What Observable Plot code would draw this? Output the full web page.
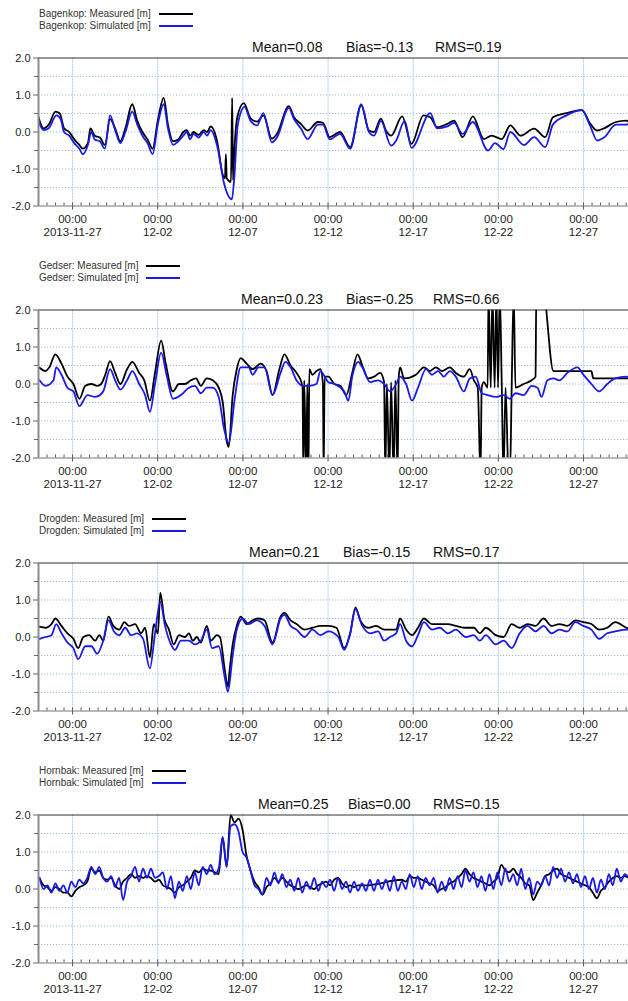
<!DOCTYPE html>
<html>
<head>
<meta charset="utf-8">
<script src="https://cdn.jsdelivr.net/npm/d3@7"></script>
<script src="https://cdn.jsdelivr.net/npm/@observablehq/plot@0.6"></script>
<style>
  html, body { margin: 0; padding: 0; background: #fff; }
  body { width: 628px; height: 1001px; overflow: hidden; font-family: Arial, "Liberation Sans", sans-serif; }
  #root { position: relative; width: 628px; height: 1001px; }
  .panel { position: absolute; left: 0; width: 628px; height: 252px; }
  .panel svg { position: absolute; left: 0; top: 0; overflow: visible; }
  .legend { position: absolute; left: 39px; top: 8px; display: grid; grid-template-columns: auto 34px; column-gap: 8px; row-gap: 0; font-size: 10px; color: #333; line-height: 12px; }
  .sw { align-self: center; height: 2px; }
  .stat { position: absolute; top: 39px; font-size: 14px; line-height: 16px; color: #111; white-space: nowrap; }
</style>
</head>
<body>
<div id="root"></div>
<script>
// ---------- time axis ----------
const START = "2013-11-25T00:00Z";
const END = "2013-12-29T15:20Z";
const xTickDates = ["2013-11-27", "2013-12-02", "2013-12-07", "2013-12-12", "2013-12-17", "2013-12-22", "2013-12-27"];
const xTickLabels = ["2013-11-27", "12-02", "12-07", "12-12", "12-17", "12-22", "12-27"];
const yTicks = [-2, -1, 0, 1, 2];
const yHalfTicks = [-1.5, -0.5, 0.5, 1.5];
const yGrid = [-1.5, -1, -0.5, 0, 0.5, 1, 1.5];

// ---------- series: [day since 2013-11-25 00:00, water level m] ----------
const bagenkopMeasured = [[0,0.4],[0.3,0.1],[0.6,0.2],[1.0,0.55],[1.25,0.5],[1.5,0.1],[1.8,0.0],[2.1,-0.2],[2.4,-0.35],[2.6,-0.45],[2.9,-0.3],[3.05,0.1],[3.3,-0.1],[3.6,-0.15],[3.9,-0.35],[4.2,0.35],[4.5,0.1],[4.8,-0.25],[5.1,0.1],[5.5,0.75],[5.8,0.3],[6.1,0.0],[6.4,-0.2],[6.7,-0.45],[7.0,0.3],[7.35,0.92],[7.6,0.2],[7.9,-0.25],[8.2,-0.2],[8.5,0.0],[8.7,0.05],[8.9,-0.1],[9.1,0.0],[9.4,-0.08],[9.7,0.05],[9.9,0.0],[10.1,0.15],[10.5,-0.28],[10.8,-1.13],[10.95,-1.25],[11.0,-0.6],[11.05,-1.25],[11.3,-1.35],[11.37,0.92],[11.42,-1.3],[11.5,-0.5],[11.67,0.4],[12.05,0.78],[12.45,0.37],[12.84,0.28],[13.2,0.45],[13.7,-0.18],[14.0,-0.05],[14.7,0.7],[15.0,0.4],[15.4,0.22],[15.8,0.04],[16.4,0.27],[16.7,0.25],[17.1,-0.14],[17.7,0.0],[18.3,-0.41],[18.95,0.72],[19.4,0.04],[19.7,0.0],[20.1,0.36],[20.4,0.04],[20.7,-0.1],[21.35,0.42],[21.9,-0.32],[22.6,0.45],[23.0,0.4],[23.4,0.13],[24.0,0.22],[24.4,0.31],[24.9,-0.14],[25.5,0.42],[26.15,-0.19],[26.6,-0.1],[27.2,-0.19],[27.7,0.18],[28.3,-0.1],[29.1,0.09],[29.75,-0.14],[30.2,0.4],[31.0,0.51],[31.9,0.59],[32.4,0.22],[32.8,0.04],[33.2,0.1],[33.9,0.27],[34.5,0.31],[34.8,0.2]];
const bagenkopSimulated = [[0,0.3],[0.3,0.05],[0.6,0.1],[1.05,0.45],[1.3,0.35],[1.5,0.0],[1.8,-0.1],[2.1,-0.3],[2.4,-0.45],[2.6,-0.6],[2.9,-0.35],[3.1,0.0],[3.3,-0.2],[3.6,-0.25],[3.9,-0.45],[4.2,0.45],[4.5,0.05],[4.8,-0.3],[5.1,0.0],[5.5,0.55],[5.8,0.2],[6.1,-0.1],[6.4,-0.3],[6.7,-0.6],[7.0,0.2],[7.35,0.75],[7.6,0.1],[7.9,-0.35],[8.2,-0.25],[8.5,-0.1],[8.7,0.0],[8.9,-0.2],[9.1,-0.05],[9.4,-0.15],[9.7,0.0],[9.9,-0.1],[10.1,0.05],[10.5,-0.4],[10.9,-1.4],[11.35,-1.82],[11.5,-1.2],[11.7,0.2],[12.1,0.68],[12.45,0.3],[12.84,0.18],[13.2,0.51],[13.7,-0.28],[14.0,-0.15],[14.7,0.65],[15.0,0.35],[15.4,0.1],[15.8,-0.19],[16.4,0.2],[16.7,0.2],[17.1,-0.2],[17.7,-0.05],[18.3,-0.45],[18.95,0.75],[19.4,0.0],[19.7,-0.1],[20.1,0.3],[20.7,-0.37],[21.0,-0.23],[21.5,0.3],[21.9,-0.43],[23.0,0.51],[23.4,0.1],[24.0,0.15],[24.4,0.25],[24.9,-0.05],[25.5,0.27],[26.4,-0.5],[26.8,-0.3],[27.3,-0.46],[27.7,0.0],[28.5,-0.35],[29.1,-0.14],[29.75,-0.41],[30.2,0.2],[31.0,0.45],[31.9,0.59],[32.4,0.15],[32.8,-0.23],[33.2,-0.15],[33.9,0.2],[34.5,0.2],[34.8,0.25]];

const gedserMeasured = [[0.06,0.44],[0.41,0.35],[0.64,0.45],[0.99,0.8],[1.35,0.55],[1.70,0.2],[2.05,0.0],[2.40,-0.4],[2.75,-0.05],[3.10,0.0],[3.45,-0.05],[3.68,0.0],[3.92,0.25],[4.20,0.62],[4.50,0.3],[4.81,0.0],[5.20,0.4],[5.51,0.6],[5.91,0.3],[6.21,0.1],[6.54,-0.45],[6.84,0.3],[7.20,1.17],[7.47,0.55],[7.89,-0.2],[8.25,0.0],[8.60,0.0],[8.95,0.1],[9.25,0.15],[9.53,-0.05],[9.88,0.15],[10.23,0.1],[10.58,-0.1],[10.82,-0.5],[11.05,-1.55],[11.17,-1.7],[11.40,-0.3],[11.64,0.4],[11.87,0.7],[12.22,0.55],[12.57,0.4],[13.04,0.55],[13.39,0.35],[13.74,-0.3],[14.14,0.4],[14.44,0.8],[14.80,0.5],[15.15,0.3],[15.50,-0.05],[15.55,-2.5],[15.60,0.1],[15.72,-2.5],[15.78,0.0],[15.85,-2.5],[15.9,0.4],[16.08,0.25],[16.32,0.35],[16.55,0.4],[16.70,0.0],[16.74,-2.5],[16.80,0.2],[17.02,0.2],[17.37,0.0],[17.72,-0.05],[18.07,-0.3],[18.42,0.3],[18.73,0.8],[19.01,0.5],[19.36,0.15],[19.71,0.2],[20.06,0.3],[20.29,0.05],[20.36,-2.5],[20.45,0.0],[20.60,-2.5],[20.70,0.05],[20.85,-2.5],[20.95,0.1],[21.08,-2.5],[21.15,0.2],[21.23,0.45],[21.46,0.15],[22.16,0.25],[22.63,0.45],[22.98,0.35],[23.33,0.45],[23.68,0.35],[24.15,0.45],[24.50,0.3],[24.97,0.2],[25.32,0.4],[25.56,0.1],[25.79,-0.1],[25.95,-2.5],[26.02,-0.1],[26.14,0.05],[26.37,-0.1],[26.42,2.5],[26.55,-0.1],[26.65,2.5],[26.78,-0.1],[26.88,2.5],[26.98,-0.1],[27.08,2.5],[27.20,-0.1],[27.30,-2.5],[27.42,-0.1],[27.60,-2.5],[27.68,-2.5],[27.78,-0.1],[27.90,2.5],[28.0,-0.1],[28.48,0.0],[28.95,0.1],[29.18,0.2],[29.23,2.6],[29.6,2.6],[30.23,0.35],[32.46,0.35],[32.57,0.15],[34.8,0.15]];
const gedserSimulated = [[0.06,0.1],[0.41,-0.05],[0.88,0.1],[1.04,0.45],[1.35,0.25],[1.70,-0.1],[2.05,-0.2],[2.40,-0.6],[2.87,-0.3],[3.33,-0.35],[3.80,-0.2],[4.20,0.4],[4.50,0.1],[4.81,-0.15],[5.20,0.1],[5.51,0.35],[5.91,0.0],[6.26,-0.3],[6.54,-0.75],[6.84,0.0],[7.20,0.85],[7.54,0.2],[7.89,-0.4],[8.36,-0.3],[8.83,-0.1],[9.18,-0.05],[9.53,-0.25],[9.88,-0.1],[10.23,-0.1],[10.58,-0.35],[10.89,-1.2],[11.17,-1.6],[11.52,-0.4],[11.87,0.45],[12.34,0.45],[12.57,0.25],[12.92,0.45],[13.27,0.45],[13.74,-0.3],[14.21,0.3],[14.49,0.6],[14.80,0.45],[15.15,0.1],[15.50,-0.05],[15.85,-0.05],[16.32,0.0],[16.55,0.35],[17.02,0.05],[17.37,0.0],[17.95,-0.2],[18.19,-0.45],[18.42,0.2],[18.77,0.6],[19.01,0.45],[19.47,0.05],[19.94,0.1],[20.29,0.0],[20.64,-0.2],[21.00,0.0],[21.23,0.2],[21.58,0.0],[21.93,-0.45],[22.28,-0.1],[22.75,0.4],[23.10,0.25],[23.45,0.35],[23.80,0.2],[24.15,0.35],[24.50,0.2],[24.97,-0.2],[25.32,0.15],[25.67,0.2],[26.02,-0.25],[26.37,-0.3],[26.84,-0.35],[27.31,-0.3],[27.66,-0.4],[28.01,-0.25],[28.48,-0.3],[28.95,-0.05],[29.30,-0.1],[29.53,-0.35],[29.88,0.1],[30.23,0.15],[30.58,0.1],[31.05,0.3],[31.64,0.45],[31.99,0.25],[32.46,0.0],[32.92,-0.2],[33.39,0.0],[33.86,0.15],[34.51,0.2],[34.8,0.15]];

const drogdenMeasured = [[0.06,0.28],[0.41,0.25],[0.76,0.35],[0.99,0.5],[1.35,0.3],[1.70,0.1],[2.05,-0.05],[2.33,-0.3],[2.63,0.0],[2.98,0.05],[3.33,-0.1],[3.57,0.05],[3.80,-0.1],[4.11,0.55],[4.39,0.3],[4.74,0.2],[5.04,0.4],[5.32,0.3],[5.67,0.35],[6.02,0.1],[6.26,0.25],[6.54,-0.55],[6.77,0.35],[7.01,0.1],[7.15,1.2],[7.38,0.5],[7.66,0.2],[7.94,-0.2],[8.25,0.05],[8.60,0.0],[8.83,0.1],[9.06,-0.1],[9.30,0.0],[9.53,-0.15],[9.88,0.3],[10.12,-0.1],[10.47,0.05],[10.65,0.0],[10.94,-0.9],[11.12,-1.35],[11.22,-0.9],[11.40,-0.2],[11.64,0.3],[11.87,0.55],[12.22,0.35],[12.57,0.45],[12.92,0.5],[13.27,0.45],[13.74,-0.15],[14.21,0.55],[14.44,0.65],[14.80,0.45],[15.15,0.35],[15.62,0.2],[16.08,0.25],[16.55,0.3],[17.02,0.3],[17.49,0.25],[17.95,-0.3],[18.30,0.1],[18.61,0.8],[18.89,0.45],[19.36,0.25],[19.82,0.3],[20.29,0.2],[20.64,0.2],[21.00,0.2],[21.23,0.5],[21.58,0.2],[21.93,0.05],[22.28,0.25],[22.63,0.5],[23.10,0.35],[23.57,0.35],[24.04,0.35],[24.50,0.3],[25.09,0.25],[25.56,0.25],[25.91,0.1],[26.26,0.25],[26.84,0.05],[27.31,0.0],[27.78,0.35],[28.25,0.25],[28.71,0.35],[29.18,0.3],[29.65,0.5],[30.12,0.3],[30.58,0.35],[31.05,0.3],[31.52,0.45],[31.99,0.4],[32.46,0.35],[32.92,0.2],[33.39,0.25],[33.86,0.4],[34.51,0.25],[34.8,0.2]];
const drogdenSimulated = [[0.06,-0.05],[0.41,0.0],[0.76,0.05],[1.04,0.35],[1.35,0.1],[1.70,-0.15],[2.05,-0.3],[2.33,-0.6],[2.75,-0.25],[3.10,-0.25],[3.45,-0.45],[3.80,-0.1],[4.11,0.45],[4.43,0.15],[4.74,0.05],[5.09,0.25],[5.44,0.05],[5.79,0.1],[6.14,-0.05],[6.54,-0.85],[6.84,0.1],[7.15,0.95],[7.43,0.3],[7.78,-0.2],[8.01,-0.35],[8.36,-0.1],[8.83,-0.1],[9.18,-0.2],[9.53,-0.1],[9.88,0.2],[10.19,-0.3],[10.58,-0.25],[10.94,-1.1],[11.12,-1.48],[11.40,-0.5],[11.64,0.2],[11.99,0.5],[12.34,0.35],[12.81,0.45],[13.27,0.3],[13.74,-0.2],[14.21,0.5],[14.44,0.6],[14.80,0.3],[15.15,0.2],[15.62,0.0],[16.08,0.2],[16.55,0.05],[17.02,0.15],[17.60,0.0],[17.95,-0.35],[18.30,0.1],[18.61,0.75],[19.01,0.3],[19.47,0.1],[19.94,0.15],[20.29,-0.1],[20.64,0.0],[21.00,0.1],[21.23,0.35],[21.58,-0.1],[21.93,-0.25],[22.28,0.05],[22.63,0.4],[23.10,0.2],[23.57,0.25],[24.04,0.1],[24.50,0.2],[25.09,0.0],[25.56,0.05],[25.91,-0.1],[26.26,0.05],[26.84,-0.2],[27.31,-0.1],[27.78,-0.3],[28.25,0.1],[28.71,0.3],[29.18,0.15],[29.65,0.3],[30.12,0.1],[30.58,0.2],[31.05,0.15],[31.52,0.4],[31.99,0.3],[32.46,0.2],[32.92,-0.05],[33.39,0.1],[33.86,0.15],[34.51,0.2],[34.8,0.2]];

// Hornbæk is read on a regular grid: first reading 1.4 h after start, one reading every 5.61 h
const hornbakFirstHour = 1.4;
const hornbakStepHours = 5.61;
const hornbakMeasured = [0.3,0.1,0.05,-0.05,0.05,0.0,-0.1,-0.1,-0.2,-0.05,
 0.05,0.1,0.2,0.55,0.45,0.5,0.3,0.25,0.3,0.1,
 0.0,0.2,0.3,0.4,0.3,0.35,0.3,0.35,0.3,0.2,
 0.25,0.1,0.05,0.0,-0.1,0.05,0.1,0.2,0.3,0.5,
 0.45,0.55,0.5,0.5,0.45,0.4,1.4,0.6,2.0,1.8,
 1.9,1.6,0.9,0.5,0.2,0.05,-0.15,0.05,0.15,0.3,
 0.2,0.3,0.2,0.1,0.05,0.0,0.05,0.1,0.05,0.0,
 0.1,0.15,0.2,0.1,0.25,0.3,0.15,0.05,0.1,0.05,
 0.1,0.1,0.1,null,null,null,null,null,null,null,
 null,0.25,0.2,0.35,0.3,0.3,0.25,0.2,0.15,0.1,
 -0.05,0.0,0.05,0.15,0.2,0.3,0.4,0.55,0.4,0.3,
 0.25,0.2,0.15,0.1,0.2,0.3,0.65,0.5,0.45,0.55,
 0.4,0.3,0.15,0.1,-0.3,-0.1,0.1,0.35,0.4,0.5,
 0.55,0.4,0.35,0.3,0.25,0.2,0.15,0.1,0.05,-0.1,
 -0.25,-0.05,0.05,0.2,0.3,0.35,0.3,0.35,0.3];
const hornbakSimulated = [0.3,0.0,0.1,-0.1,0.15,-0.05,0.1,-0.1,0.2,0.05,
 0.25,0.15,0.3,0.6,0.4,0.6,0.3,0.2,0.35,0.05,
 0.3,-0.3,0.2,0.35,0.6,0.2,0.55,0.3,0.55,0.3,
 0.35,0.45,0.0,0.35,-0.25,0.2,-0.05,0.35,0.0,0.45,
 0.1,0.6,0.4,0.65,0.4,0.55,1.4,0.6,1.7,1.75,
 1.55,1.0,0.85,0.5,0.1,0.0,-0.15,0.3,0.1,0.45,
 0.15,0.4,0.05,0.25,-0.05,0.3,-0.1,0.2,0.0,0.3,
 -0.05,0.2,0.05,0.25,-0.05,0.3,0.0,0.2,-0.1,0.2,
 -0.05,0.15,-0.05,0.25,-0.05,0.25,0.0,0.25,-0.05,0.35,
 -0.05,0.2,0.0,0.4,0.05,0.35,0.0,0.3,0.1,0.3,
 -0.1,0.2,-0.05,0.3,0.0,0.35,0.05,0.5,0.2,0.45,
 0.05,0.35,-0.05,0.4,0.0,0.45,0.1,0.55,0.2,0.4,
 0.1,0.55,0.0,0.3,-0.15,0.2,0.1,0.35,0.1,0.6,
 0.3,0.55,0.2,0.45,0.15,0.4,0.05,0.35,0.0,0.3,
 -0.1,0.25,0.0,0.4,0.1,0.55,0.2,0.4,0.3];

const stationNames = ["Bagenkop", "Gedser", "Drogden", "Hornbak"];
const statTexts = [
  ["Mean=0.08", "Bias=-0.13", "RMS=0.19"],
  ["Mean=0.0.23", "Bias=-0.25", "RMS=0.66"],
  ["Mean=0.21", "Bias=-0.15", "RMS=0.17"],
  ["Mean=0.25", "Bias=0.00", "RMS=0.15"]
];

// ---------- build ----------
const DAY = 864e5, HOUR = 36e5;
const t0 = new Date(START).getTime();
const fromDays = pairs => pairs.map(([d, v]) => ({t: new Date(t0 + d * DAY), v}));
const fromGrid = vals => vals.map((v, j) => ({t: new Date(t0 + (hornbakFirstHour + hornbakStepHours * j) * HOUR), v})).filter(p => p.v != null);

const series = [
  [fromDays(bagenkopMeasured), fromDays(bagenkopSimulated)],
  [fromDays(gedserMeasured), fromDays(gedserSimulated)],
  [fromDays(drogdenMeasured), fromDays(drogdenSimulated)],
  [fromGrid(hornbakMeasured), fromGrid(hornbakSimulated)]
];

const statLeft = [[252, 346, 435], [241, 346, 433], [249, 343, 433], [258, 348, 433]];
const panelTop = [0, 252, 505, 757];

const xStart = new Date(START), xEnd = new Date(END);
const majorDates = xTickDates.map(s => new Date(s + "T00:00Z"));
const minorDates = d3.utcHour.every(12).range(xStart, xEnd);
const labelOf = d => "00:00\n" + xTickLabels[majorDates.findIndex(m => m.getTime() === d.getTime())];

const MT = 57.5, PH = 148, MB = 31;
const BLACK = "#000000", BLUE = "#1a1ae6";
const root = document.getElementById("root");

series.forEach(([meas, sim], k) => {
  const panel = document.createElement("div");
  panel.className = "panel";
  panel.style.top = panelTop[k] + "px";

  const chart = Plot.plot({
    width: 628,
    height: MT + PH + MB,
    marginTop: MT, marginBottom: MB, marginLeft: 38, marginRight: 0,
    style: {fontFamily: 'Arial, "Liberation Sans", sans-serif', fontSize: "11px", color: "#222", background: "transparent"},
    x: {type: "utc", domain: [xStart, xEnd], label: null},
    y: {domain: [-2, 2], label: null},
    marks: [
      Plot.gridY(yGrid, {stroke: "#9bb6dc", strokeOpacity: 0.95, strokeDasharray: "1.2,1.8"}),
      Plot.gridX(majorDates, {stroke: "#a5c6ec", strokeOpacity: 0.95, strokeDasharray: "2,1"}),
      Plot.line(meas, {x: "t", y: "v", stroke: BLACK, strokeWidth: 1.8, curve: "monotone-x", clip: true}),
      Plot.line(sim, {x: "t", y: "v", stroke: BLUE, strokeWidth: 1.8, curve: "monotone-x", clip: true}),
      Plot.tickX(minorDates, {x: d => d, stroke: "#555", insetTop: PH - 3}),
      Plot.ruleY([2], {stroke: "#333", strokeWidth: 1}),
      Plot.ruleY([-2], {stroke: "#777", strokeWidth: 1}),
      Plot.ruleX([xStart], {stroke: "#8a8a8a", strokeWidth: 2}),
      Plot.axisX(majorDates, {tickFormat: labelOf, tickSize: 4, tickPadding: 3, lineHeight: 1.18, fontSize: 11.5, stroke: "#555"}),
      Plot.axisY(yTicks, {tickFormat: d => d.toFixed(1), tickSize: 5, tickPadding: 3, fontSize: 11, stroke: "#666"}),
      Plot.axisY(yHalfTicks, {tickFormat: () => "", tickSize: 4, stroke: "#666"})
    ]
  });
  panel.appendChild(chart);

  const legend = document.createElement("div");
  legend.className = "legend";
  [["Measured", BLACK], ["Simulated", BLUE]].forEach(([kind, color]) => {
    const t = document.createElement("span");
    t.textContent = `${stationNames[k]}: ${kind} [m]`;
    const s = document.createElement("span");
    s.className = "sw";
    s.style.background = color;
    legend.appendChild(t); legend.appendChild(s);
  });
  panel.appendChild(legend);

  statTexts[k].forEach((txt, i) => {
    const s = document.createElement("span");
    s.className = "stat";
    s.style.left = statLeft[k][i] + "px";
    s.textContent = txt;
    panel.appendChild(s);
  });

  root.appendChild(panel);
});
</script>
</body>
</html>
